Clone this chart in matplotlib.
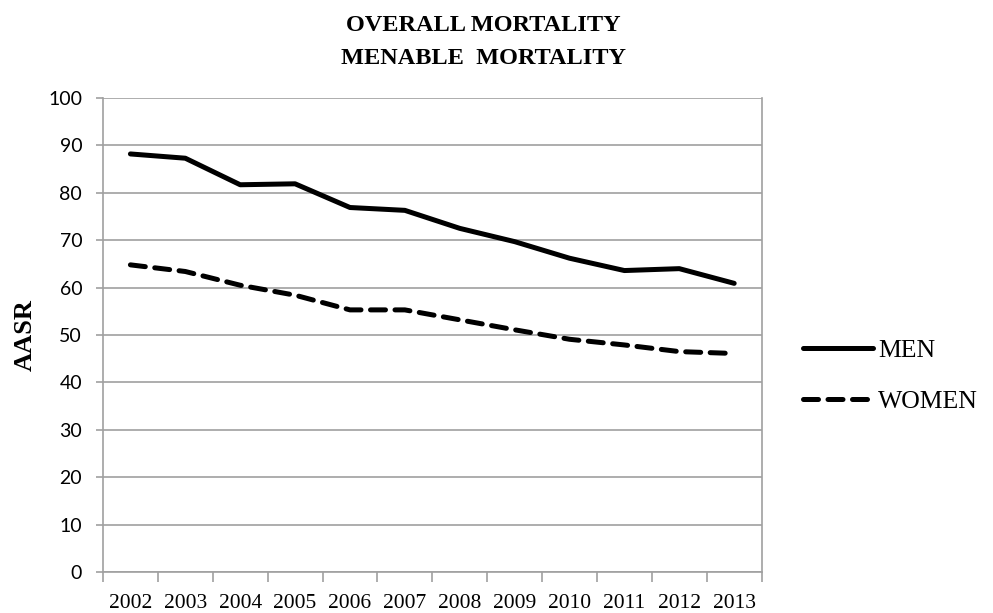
import matplotlib.pyplot as plt
from matplotlib.lines import Line2D

# data
years = ['2002', '2003', '2004', '2005', '2006', '2007',
         '2008', '2009', '2010', '2011', '2012', '2013']
men = [88.2, 87.3, 81.7, 81.9, 76.9, 76.3, 72.5, 69.7, 66.2, 63.6, 64.0, 60.9]
women = [64.8, 63.4, 60.5, 58.4, 55.3, 55.3, 53.2, 51.1, 49.1, 47.9, 46.5, 46.1]

serif = 'Liberation Serif'
grey = '#a0a0a0'
lw = 3.6
dash = (3.0, 1.9)

fig = plt.figure(figsize=(9.93, 6.13), dpi=100)
ax = fig.add_axes([0.1037, 0.0669, 0.6633, 0.7732])

x = list(range(len(years)))
ax.plot(x, men, color='black', lw=lw, solid_capstyle='round', label='MEN')
ax.plot(x, women, color='black', lw=lw, dashes=dash,
        dash_capstyle='round', label='WOMEN')

ax.set_xlim(-0.5, len(years) - 0.5)
ax.set_ylim(0, 100)
ax.set_yticks(range(0, 101, 10))
ax.yaxis.grid(True, color=grey, lw=1.2)
ax.set_axisbelow(True)

# ticks at category boundaries, labels at centres
ax.set_xticks([i - 0.5 for i in range(len(years) + 1)])
ax.set_xticklabels([])
ax.set_xticks(x, minor=True)
ax.set_xticklabels(years, minor=True, fontfamily=serif, fontsize=15.5)
ax.tick_params(axis='x', which='major', length=7, color=grey, width=1.2, direction='out')
ax.tick_params(axis='x', which='minor', length=0, pad=16)
ax.tick_params(axis='y', length=5, color=grey, width=1.2, labelsize=14, pad=10)
for lbl in ax.get_yticklabels():
    lbl.set_fontfamily('Lato')

for side in ['top', 'right']:
    ax.spines[side].set_visible(False)
for side in ['left', 'bottom']:
    ax.spines[side].set_color(grey)
    ax.spines[side].set_linewidth(1.2)
ax.plot([1, 1], [0, 1], transform=ax.transAxes, color=grey, lw=1.2, clip_on=False)

ax.set_ylabel('AASR', fontfamily=serif, fontweight='bold', fontsize=19)
ax.yaxis.set_label_coords(-0.1, 0.5)

fig.text(0.487, 0.958, 'OVERALL MORTALITY', ha='center', va='center',
         fontfamily=serif, fontweight='bold', fontsize=17.5)
fig.text(0.487, 0.905, 'MENABLE  MORTALITY', ha='center', va='center',
         fontfamily=serif, fontweight='bold', fontsize=17.5)

handles = [Line2D([], [], color='black', lw=lw, solid_capstyle='round'),
           Line2D([], [], color='black', lw=lw, dashes=dash, dash_capstyle='round')]
fig.legend(handles, ['MEN', 'WOMEN'], loc='center left', bbox_to_anchor=(0.809, 0.387),
           frameon=False, prop={'family': serif, 'size': 18.5}, borderpad=0,
           borderaxespad=0, handlelength=2.7, handletextpad=0.2, labelspacing=1.1)

fig.savefig('out.png', dpi=100)
